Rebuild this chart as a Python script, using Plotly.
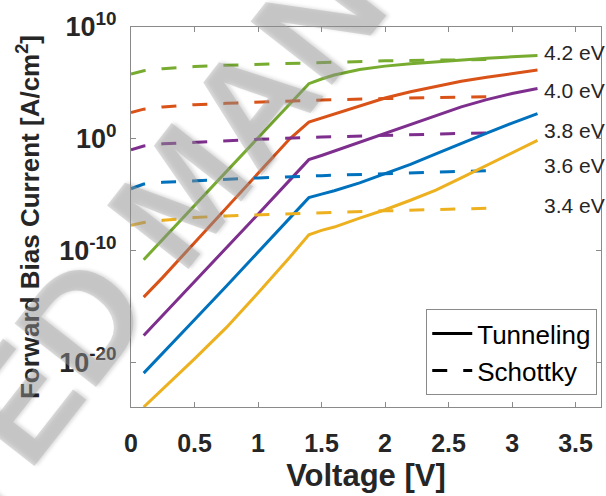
import plotly.graph_objects as go

# Forward bias current density vs. voltage for several barrier heights.
# Currents are stored as log10(J / (A/cm^2)).

barriers = ["4.2 eV", "4.0 eV", "3.8 eV", "3.6 eV", "3.4 eV"]
colors = ["#77AC30", "#D95319", "#7E2F8E", "#0072BD", "#EDB120"]

# Tunneling (solid curves)
v_tunnel = [0.1, 0.25, 0.5, 0.75, 1.0, 1.25, 1.4, 1.5, 1.6, 1.8, 2.0, 2.2, 2.4, 2.6, 2.8, 3.0, 3.2]
tunnel_42 = [-10.82, -9.0, -5.95, -2.9, 0.1, 3.2, 4.93, 5.35, 5.7, 6.2, 6.5, 6.72, 6.9, 7.05, 7.2, 7.33, 7.45]
tunnel_40 = [-14.17, -12.4, -9.3, -6.2, -3.1, 0.0, 1.5, 1.85, 2.2, 2.9, 3.65, 4.2, 4.7, 5.15, 5.5, 5.8, 6.15]
tunnel_38 = [-17.6, -15.8, -12.8, -9.8, -6.75, -3.7, -1.87, -1.5, -1.1, -0.3, 0.5, 1.3, 2.1, 2.85, 3.5, 4.05, 4.5]
tunnel_36 = [-20.97, -19.2, -16.2, -13.2, -10.15, -7.1, -5.27, -4.95, -4.65, -3.95, -3.15, -2.3, -1.35, -0.4, 0.5, 1.4, 2.25]
tunnel_34 = [-24.0, -22.4, -19.7, -16.9, -13.8, -10.6, -8.59, -8.2, -7.9, -7.1, -6.35, -5.5, -4.6, -3.5, -2.4, -1.25, -0.15]

# Schottky emission (dashed curves)
v_schottky = [0.0, 0.1, 0.25, 0.5, 0.75, 1.0, 1.5, 2.0, 2.5, 2.9]
schottky_42 = [5.8, 6.08, 6.27, 6.46, 6.58, 6.67, 6.85, 6.97, 7.05, 7.1]
schottky_40 = [2.35, 2.65, 2.85, 3.05, 3.17, 3.28, 3.47, 3.6, 3.7, 3.78]
schottky_38 = [-1.0, -0.65, -0.45, -0.3, -0.15, -0.05, 0.15, 0.32, 0.45, 0.55]
schottky_36 = [-4.47, -4.05, -3.9, -3.75, -3.6, -3.5, -3.3, -3.1, -2.95, -2.83]
schottky_34 = [-7.75, -7.5, -7.3, -7.05, -6.9, -6.8, -6.62, -6.45, -6.3, -6.2]

# Barrier-height labels placed at the right end of the curves (log10 position)
label_log_y = [7.71, 4.33, 0.75, -2.38, -5.96]
label_x = 3.235

y_tick_exp = [-20, -10, 0, 10]
y_tick_text = ["10<sup>-20</sup>", "10<sup>-10</sup>", "10<sup>0</sup>", "10<sup>10</sup>"]

tunnel_sets = [tunnel_42, tunnel_40, tunnel_38, tunnel_36, tunnel_34]
schottky_sets = [schottky_42, schottky_40, schottky_38, schottky_36, schottky_34]

FONT = "Liberation Sans, Arial, sans-serif"
AXIS_GREY = "#8a8a8a"
DASH = "15px,16px"

fig = go.Figure()

for color, t_log, s_log in zip(colors, tunnel_sets, schottky_sets):
    fig.add_trace(go.Scatter(
        x=v_schottky, y=[10 ** e for e in s_log], mode="lines",
        line=dict(color=color, width=3, dash=DASH), showlegend=False,
        hoverinfo="skip"))
    fig.add_trace(go.Scatter(
        x=v_tunnel, y=[10 ** e for e in t_log], mode="lines",
        line=dict(color=color, width=3), showlegend=False,
        hoverinfo="skip"))

# Black legend entries for the two mechanisms
fig.add_trace(go.Scatter(x=[None], y=[None], mode="lines", name="Tunneling",
                         line=dict(color="black", width=3)))
fig.add_trace(go.Scatter(x=[None], y=[None], mode="lines", name="Schottky",
                         line=dict(color="black", width=3, dash=DASH)))

annotations = []
for text, ly in zip(barriers, label_log_y):
    annotations.append(dict(
        x=label_x, y=ly, xref="x", yref="y", text=text, showarrow=False,
        xanchor="left", yanchor="middle",
        font=dict(family=FONT, size=21, color="#262626")))

# Diagonal watermark
annotations.append(dict(
    x=0.11, y=0.565, xref="paper", yref="paper", text="ACCEPTED MANUSCRIPT",
    showarrow=False, textangle=-52, xanchor="center", yanchor="middle",
    font=dict(family="Liberation Sans Narrow, Liberation Sans, Arial", size=150,
              color="rgba(170,170,170,0.42)", weight="bold",
              shadow="2px 2px 4px rgba(0,0,0,0.35)")))

fig.update_layout(
    width=606, height=496,
    margin=dict(l=131, r=5, t=27, b=89),
    paper_bgcolor="white", plot_bgcolor="white",
    font=dict(family=FONT, color="#262626"),
    showlegend=True,
    legend=dict(
        x=0.992, y=0.031, xanchor="right", yanchor="bottom",
        bgcolor="white", bordercolor=AXIS_GREY, borderwidth=1,
        font=dict(family=FONT, size=26, color="black"),
        itemwidth=40, tracegroupgap=0),
    annotations=annotations,
)

fig.update_xaxes(
    range=[0, 3.7], tick0=0, dtick=0.5,
    ticks="inside", ticklen=5, tickcolor=AXIS_GREY,
    showline=True, linecolor=AXIS_GREY, linewidth=1, mirror="allticks",
    showgrid=False, zeroline=False,
    tickfont=dict(family=FONT, size=25, color="#262626", weight="bold"),
    ticklabelstandoff=14,
    title=dict(text="Voltage [V]", standoff=8,
               font=dict(family=FONT, size=31, color="#262626", weight="bold")),
)

fig.update_yaxes(
    type="log", range=[-24, 10],
    tickmode="array", tickvals=[10 ** e for e in y_tick_exp], ticktext=y_tick_text,
    ticks="inside", ticklen=5, tickcolor=AXIS_GREY,
    showline=True, linecolor=AXIS_GREY, linewidth=1, mirror="allticks",
    showgrid=False, zeroline=False,
    tickfont=dict(family=FONT, size=27, color="#262626", weight="bold"),
    ticklabelstandoff=8,
    title=dict(text="Forward Bias Current [A/cm<sup>2</sup>]", standoff=12,
               font=dict(family=FONT, size=26, color="#262626", weight="bold")),
)

fig.write_html("out.html")
